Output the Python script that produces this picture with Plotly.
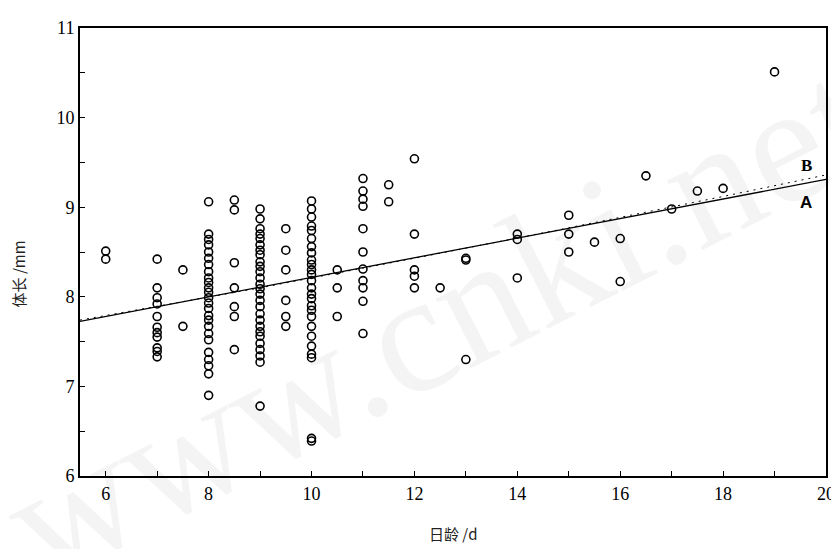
import plotly.graph_objects as go

# Age groups (days) and the body lengths (mm) observed at each age
age_groups = [6, 7, 7.5, 8, 8.5, 9, 9.5, 10, 10.5, 11, 11.5, 12, 12.5, 13, 14, 15, 15.5, 16, 16.5, 17, 17.5, 18, 19]
length_groups = [
    [8.51, 8.42],
    [8.42, 8.10, 7.99, 7.92, 7.78, 7.66, 7.60, 7.55, 7.43, 7.39, 7.33],
    [8.30, 7.67],
    [9.06, 8.70, 8.64, 8.58, 8.50, 8.43, 8.36, 8.28, 8.21, 8.16, 8.10, 8.05, 7.99, 7.93, 7.87, 7.79, 7.74, 7.67, 7.59, 7.52, 7.38, 7.30, 7.23, 7.14, 6.90],
    [9.08, 8.97, 8.38, 8.10, 7.89, 7.78, 7.41],
    [8.98, 8.87, 8.76, 8.70, 8.65, 8.58, 8.52, 8.47, 8.39, 8.34, 8.28, 8.21, 8.14, 8.09, 8.03, 7.96, 7.89, 7.81, 7.74, 7.67, 7.61, 7.56, 7.48, 7.41, 7.34, 7.27, 6.78],
    [8.76, 8.52, 8.30, 7.96, 7.78, 7.67],
    [9.07, 8.98, 8.89, 8.79, 8.74, 8.65, 8.56, 8.49, 8.41, 8.36, 8.30, 8.25, 8.18, 8.10, 8.03, 7.98, 7.90, 7.85, 7.78, 7.67, 7.56, 7.45, 7.36, 7.32, 6.42, 6.39],
    [8.30, 8.10, 7.78],
    [9.32, 9.18, 9.09, 9.01, 8.76, 8.50, 8.31, 8.18, 8.10, 7.95, 7.59],
    [9.25, 9.06],
    [9.54, 8.70, 8.30, 8.23, 8.10],
    [8.10],
    [8.43, 8.41, 7.30],
    [8.70, 8.64, 8.21],
    [8.91, 8.70, 8.50],
    [8.61],
    [8.65, 8.17],
    [9.35],
    [8.98],
    [9.18],
    [9.21],
    [10.51],
]

# Fitted curves A (solid) and B (dashed)
line_a_x = [5.5, 20]
line_a_y = [7.725, 9.31]
line_b_x = [5.5, 9, 12, 15, 18, 20]
line_b_y = [7.74, 8.10, 8.43, 8.77, 9.12, 9.36]

x_tick_vals = [6, 8, 10, 12, 14, 16, 18, 20]
y_tick_vals = [6, 7, 8, 9, 10, 11]

ages = []
lengths = []
for a, grp in zip(age_groups, length_groups):
    for v in grp:
        ages.append(a)
        lengths.append(v)

fig = go.Figure()

fig.add_trace(go.Scatter(
    x=line_b_x, y=line_b_y, mode="lines",
    line=dict(color="black", width=1, dash="2px,5px"),
    hoverinfo="skip", showlegend=False,
))
fig.add_trace(go.Scatter(
    x=line_a_x, y=line_a_y, mode="lines",
    line=dict(color="black", width=1.3),
    hoverinfo="skip", showlegend=False,
))
fig.add_trace(go.Scatter(
    x=ages, y=lengths, mode="markers",
    marker=dict(symbol="circle-open", size=8, color="black", line=dict(width=1.6, color="black")),
    showlegend=False,
))

serif = "Liberation Serif, Times New Roman, serif"

fig.update_layout(
    width=839, height=549,
    margin=dict(l=72, r=21, t=10, b=81),
    paper_bgcolor="white", plot_bgcolor="white",
    font=dict(family=serif, size=16, color="black"),
    xaxis=dict(
        range=[5.5, 20], tickvals=x_tick_vals, ticks="inside", ticklen=5, tickwidth=1.2,
        tickcolor="black", showline=True, linecolor="black", linewidth=2, mirror=True,
        showgrid=False, zeroline=False,
        minor=dict(dtick=1, tick0=5, ticks="inside", ticklen=5, tickwidth=1.2, tickcolor="black"),
        tickfont=dict(family=serif, size=18),
    ),
    yaxis=dict(
        range=[6, 11], tickvals=y_tick_vals, ticks="inside", ticklen=5, tickwidth=1.2,
        tickcolor="black", showline=True, linecolor="black", linewidth=2, mirror=True,
        showgrid=False, zeroline=False,
        minor=dict(dtick=0.5, tick0=6, ticks="inside", ticklen=5, tickwidth=1.2, tickcolor="black"),
        tickfont=dict(family=serif, size=18),
    ),
    annotations=[
        dict(text="www.cnki.net", xref="paper", yref="paper", x=0.48, y=0.345,
             xanchor="center", yanchor="middle",
             showarrow=False, textangle=-27,
             font=dict(family=serif, size=170, color="rgba(0,0,0,0.045)")),
        dict(text="<b>B</b>", x=19.62, y=9.47, xref="x", yref="y", showarrow=False,
             font=dict(family=serif, size=17, color="black")),
        dict(text="<b>A</b>", x=19.62, y=9.05, xref="x", yref="y", showarrow=False,
             font=dict(family="Liberation Sans, Arial, sans-serif", size=17, color="black")),
        dict(text="日龄 /d", xref="paper", yref="paper", x=0.5, y=-0.129, showarrow=False,
             xanchor="center", yanchor="middle",
             font=dict(family="Noto Sans CJK SC", size=15, color="#222")),
        dict(text="体长 /mm", xref="paper", yref="paper", x=-0.083, y=0.45, showarrow=False,
             textangle=-90, xanchor="center", yanchor="middle",
             font=dict(family="Noto Sans CJK SC", size=15, color="#222")),
    ],
)

fig.write_html("out.html")
